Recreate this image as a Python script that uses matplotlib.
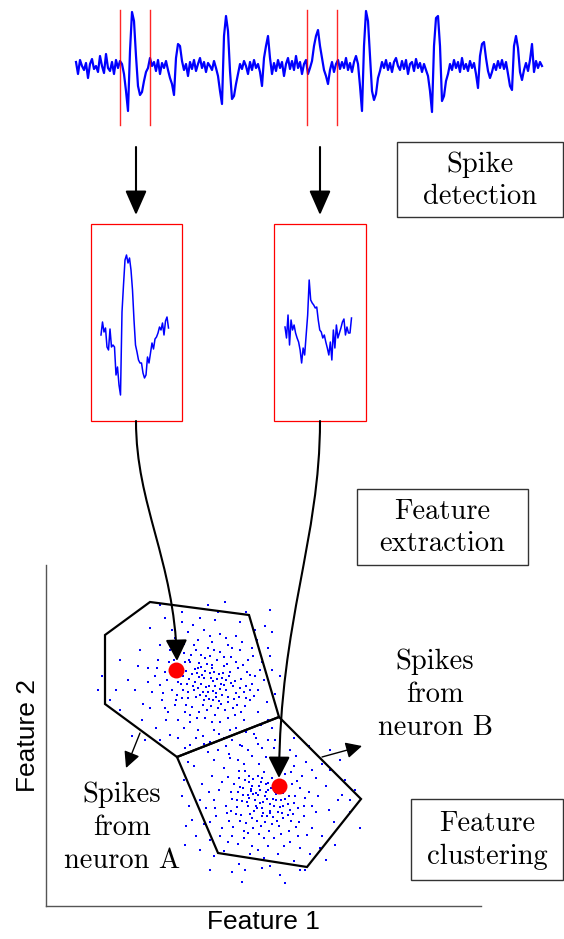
import numpy as np
import matplotlib
matplotlib.use('Agg')
import matplotlib.pyplot as plt
from matplotlib.patches import Rectangle, Polygon, FancyArrowPatch
from matplotlib.path import Path

plt.rcParams['font.family'] = 'DejaVu Sans'

W, H = 564, 939

# raw recording, offset from baseline (px, up = positive), one sample every 2 px
trace = [4, -8, 6, 0, -4, 3, -12, 2, 7, -3, 0, -6, 10, 0, -7, 12, -2, -5, 4, -8,
         6, -2, 5, 2, -8, -25, -45, 15, 54, 45, 10, -20, -29, -26, -15, -6, -2, 8, 0, 4,
         -5, 6, -8, 3, -2, 5, -4, -12, -18, -29, 8, 22, 20, 5, -4, 2, -10, 4, -3, 6,
         -5, 2, 8, -2, 4, -6, 3, 0, -4, 5, -2, -10, -25, -38, 30, 50, 35, -5, -33, -30,
         -18, -8, 2, -3, 5, 0, -8, 4, -4, 6, -2, 2, -6, -20, 8, 20, 30, 8, -8, 3,
         -5, 6, -2, 4, -10, 2, 8, -3, 5, -4, 10, -2, 4, -8, 2, 6, -8, -2, 5, 20,
         30, 36, 20, 8, -4, -10, -18, -4, 4, -6, 2, 6, -3, 4, -2, 8, -4, 3, -6, 4,
         10, 2, -20, -45, 20, 55, 45, 10, -25, -34, -28, -12, -5, 4, -2, 6, -4, 3, -6, 4,
         8, 0, -4, 5, -3, 6, -8, 2, 4, -5, 7, -2, 3, -6, 2, -4, -10, -25, -46, 20,
         48, 50, 20, -35, -30, -15, -8, 2, -4, 6, -2, 4, -6, 8, -3, 2, -5, 5, -2, 3,
         -8, -22, 10, 22, 24, 8, -5, -12, -6, 2, -4, 5, -2, 6, -3, 4, -8, -20, -24, 20,
         30, 18, -6, -14, -4, 3, -5, 6, 22, -6, 5, -2, 4, 0]
trace_x0, trace_step, trace_base = 76, 2, 66

# detection windows (x range on the recording)
windows = [(120, 150), (307, 337)]

# the two cut-out spike waveforms (px offsets from the box baseline)
spike_a = [0, 13, 3, 7, -12, -15, 6, -12, -10, -12, -40, -32, -50, -60, 23, 50,
           75, 80, 72, 77, 65, 45, 15, -10, -17, -25, -28, -28, -38, -43, -40, -22,
           -28, -18, -8, -14, -4, -2, 2, 8, 5, 12, 0, 14, 18, 7]
spike_b = [3, -8, 15, -15, 10, 0, 5, -3, -8, -12, -20, -33, -18, -25, -5, 15,
           50, 30, 27, 25, 22, 23, 10, 0, -2, -8, -5, -12, -18, -25, -12, -30,
           0, -18, 5, -8, -3, 2, 8, 11, -5, 3, -3, -3, 12]

# points in feature space
cluster_a = [
    (190, 662), (198, 668), (205, 671), (212, 665), (219, 674), (226, 680), (201, 684), (194, 690),
    (208, 692), (215, 686), (222, 695), (230, 672), (183, 676), (187, 684), (199, 677), (211, 678),
    (217, 660), (224, 666), (233, 686), (205, 658), (196, 697), (213, 700), (228, 702), (188, 698),
    (180, 668), (241, 679), (236, 693), (203, 705), (218, 708), (192, 707), (207, 664), (214, 672),
    (221, 684), (197, 673), (209, 686), (226, 690), (183, 690), (238, 668), (191, 655), (231, 657),
    (200, 695), (216, 693), (210, 656), (185, 662), (223, 673), (204, 678), (195, 682), (219, 701),
    (234, 699), (186, 705), (170, 650), (165, 672), (172, 690), (160, 685), (175, 705), (168, 712),
    (178, 720), (190, 722), (205, 718), (220, 722), (235, 715), (245, 706), (250, 690), (255, 676),
    (248, 660), (240, 650), (228, 645), (212, 642), (198, 640), (184, 644), (158, 660), (162, 700),
    (175, 638), (250, 700), (258, 690), (244, 720), (230, 730), (214, 730), (198, 730), (184, 728),
    (166, 720), (155, 676), (152, 692), (160, 645), (172, 630), (188, 632), (204, 630), (220, 634),
    (236, 636), (252, 648), (262, 662), (264, 680), (258, 712), (246, 732), (196, 738), (210, 742),
    (224, 738), (170, 735), (150, 708), (148, 668), (140, 650), (135, 690), (142, 720), (128, 680),
    (150, 628), (165, 618), (182, 612), (200, 618), (218, 612), (240, 622), (255, 630), (268, 648),
    (272, 670), (275, 694), (268, 720), (256, 738), (240, 745), (208, 752), (185, 748), (160, 740),
    (120, 710), (110, 700), (102, 676), (145, 740), (270, 610), (265, 626), (246, 612), (225, 602),
    (208, 605), (160, 605), (230, 758), (120, 660), (275, 740), (132, 736), (98, 690),
    (202, 675), (206, 687), (213, 681), (199, 663), (189, 679), (222, 678), (227, 664), (216, 697),
    (193, 686), (209, 699), (231, 683), (186, 671), (240, 688), (178, 682), (195, 669), (203, 692),
    (220, 689), (212, 668), (228, 697), (182, 698), (207, 710), (199, 712), (215, 715), (225, 710),
    (190, 715), (237, 705), (244, 692), (177, 695), (174, 660), (243, 665), (208, 648), (220, 652),
    (196, 650), (232, 648), (184, 653), (250, 675), (167, 680), (163, 693), (252, 684), (246, 698),
    (201, 667), (210, 673), (217, 679), (224, 685), (206, 696), (198, 688), (213, 691), (229, 676),
    (235, 681), (192, 674), (188, 692), (204, 700), (211, 706), (221, 704), (233, 708), (239, 697),
    (246, 686), (247, 672), (236, 662), (224, 657), (214, 650), (201, 655), (189, 660), (181, 684),
    (176, 700), (185, 712), (197, 718), (212, 722), (228, 718), (241, 712), (254, 696), (260, 670),
    (253, 656), (242, 642), (226, 638), (210, 636), (194, 645), (178, 650), (169, 662), (157, 668),
    (165, 708), (178, 738), (203, 736), (232, 740), (261, 725), (267, 702), (270, 656), (257, 640),
    (182, 622), (148, 682), (143, 704), (156, 728), (190, 745), (262, 748), (138, 666), (116, 690),
    (280, 676), (272, 632), (215, 620), (193, 625)]

cluster_b = [
    (245, 780), (252, 786), (260, 790), (268, 783), (275, 792), (281, 800), (255, 800), (248, 806),
    (262, 808), (270, 804), (278, 812), (286, 788), (238, 792), (242, 801), (253, 794), (265, 796),
    (272, 778), (279, 785), (288, 804), (258, 776), (250, 814), (267, 816), (283, 818), (241, 815),
    (234, 784), (295, 796), (290, 810), (257, 821), (272, 824), (246, 823), (261, 782), (268, 790),
    (276, 800), (251, 789), (263, 802), (280, 807), (237, 807), (292, 784), (245, 771), (285, 774),
    (254, 811), (270, 811), (264, 772), (239, 778), (277, 789), (258, 795), (249, 798), (273, 817),
    (288, 815), (240, 821), (256, 793), (260, 803), (267, 799), (253, 779), (243, 795), (276, 794),
    (281, 780), (270, 813), (247, 802), (263, 813), (285, 799), (240, 787), (294, 803), (232, 799),
    (249, 776), (257, 808), (274, 806), (266, 784), (282, 813), (236, 814), (261, 826), (253, 828),
    (269, 831), (279, 826), (244, 831), (291, 821), (298, 808), (231, 811), (228, 777), (297, 781),
    (224, 768), (219, 790), (226, 806), (214, 800), (229, 821), (222, 828), (232, 836), (244, 838),
    (259, 834), (274, 838), (289, 831), (299, 822), (304, 806), (309, 792), (302, 776), (294, 766),
    (282, 760), (266, 757), (252, 756), (238, 760), (212, 776), (216, 816), (229, 754), (304, 816),
    (312, 806), (298, 836), (284, 846), (268, 846), (252, 846), (238, 844), (220, 836), (209, 792),
    (206, 808), (214, 760), (226, 746), (242, 746), (258, 744), (274, 748), (290, 750), (306, 762),
    (316, 778), (318, 796), (312, 828), (300, 848), (250, 854), (264, 858), (278, 854), (224, 851),
    (204, 824), (202, 784), (194, 766), (189, 806), (196, 836), (182, 796), (204, 744), (219, 734),
    (236, 728), (254, 734), (272, 728), (294, 738), (309, 746), (322, 764), (326, 786), (329, 810),
    (322, 836), (310, 854), (294, 861), (262, 868), (239, 864), (214, 856), (188, 762), (184, 780),
    (330, 770), (338, 800), (345, 780), (350, 812), (360, 828), (335, 845), (300, 870), (280, 875),
    (355, 790), (200, 850), (326, 860), (186, 826), (285, 883), (245, 870), (340, 760), (232, 872),
    (251, 791), (259, 786), (266, 792), (273, 799), (256, 806), (248, 795), (262, 816), (271, 788),
    (283, 793), (243, 788), (237, 800), (252, 818), (265, 822), (277, 821), (289, 796), (293, 814),
    (283, 806), (275, 784), (262, 778), (249, 782), (239, 771), (231, 792), (227, 813), (233, 827),
    (248, 833), (264, 838), (281, 834), (296, 827), (305, 798), (300, 788), (291, 772), (277, 767),
    (259, 764), (244, 764), (222, 782), (215, 808), (210, 822), (228, 842), (258, 850), (290, 842),
    (307, 835), (316, 812), (312, 770), (296, 756), (248, 750), (218, 750), (200, 800), (192, 820),
    (210, 840), (270, 866), (320, 848), (334, 822), (342, 795), (330, 750), (210, 870), (185, 845),
    (350, 800), (268, 740), (305, 870), (242, 882)]

centroids = [(176, 670), (279, 786)]

# cluster boundaries
cell_a = [(150, 602), (249, 615), (279, 717), (177, 757), (105, 704), (105, 635)]
cell_b = [(279, 717), (361, 799), (307, 867), (218, 853), (177, 757)]

serif = 'cmr10'
fs = 20.5

fig = plt.figure(figsize=(W / 100, H / 100), dpi=100)

# feature-space axes
fx0, fx1, fy0, fy1 = 46, 481, 565, 906
axf = fig.add_axes([fx0 / W, 1 - fy1 / H, (fx1 - fx0) / W, (fy1 - fy0) / H])
axf.set_xlim(fx0, fx1)
axf.set_ylim(fy1, fy0)
axf.set_facecolor('none')
for s in ['top', 'right']:
    axf.spines[s].set_visible(False)
for s in ['left', 'bottom']:
    axf.spines[s].set_color('#555555')
    axf.spines[s].set_linewidth(1.0)
axf.set_xticks([])
axf.set_yticks([])
axf.set_xlabel('Feature 1', family='Liberation Sans', fontsize=19, labelpad=3)
axf.set_ylabel('Feature 2', family='Liberation Sans', fontsize=19, labelpad=4)

ca = np.array(cluster_a)
cb = np.array(cluster_b)
axf.scatter(ca[:, 0], ca[:, 1], s=3.5, marker='s', c='blue', linewidths=0, zorder=2)
axf.scatter(cb[:, 0], cb[:, 1], s=3.5, marker='s', c='blue', linewidths=0, zorder=2)
for cell in [cell_a, cell_b]:
    axf.add_patch(Polygon(cell, closed=True, fill=False, ec='black', lw=1.6,
                          joinstyle='miter', zorder=3, clip_on=False))
cen = np.array(centroids)
axf.plot(cen[:, 0], cen[:, 1], 'o', color='red', ms=11.5, mec='none', zorder=4)

# overlay for everything else, in pixel units
ax = fig.add_axes([0, 0, 1, 1])
ax.set_xlim(0, W)
ax.set_ylim(H, 0)
ax.set_facecolor('none')
ax.axis('off')

tx = trace_x0 + trace_step * np.arange(len(trace))
ax.plot(tx, trace_base - np.array(trace), color='blue', lw=1.6, zorder=2)
for a, b in windows:
    for xv in (a, b):
        ax.plot([xv, xv], [10, 125], color='red', lw=1.0, alpha=0.85, zorder=3)

# spike cut-outs
boxes = [(91, 224, 91, 197), (274, 224, 92, 197)]
for (bx, by, bw, bh) in boxes:
    ax.add_patch(Rectangle((bx, by), bw, bh, fill=False, ec='red', lw=0.9))
xa = np.linspace(101, 168.5, len(spike_a))
ax.plot(xa, 335 - np.array(spike_a), color='blue', lw=1.1)
xb = np.linspace(285, 351.5, len(spike_b))
ax.plot(xb, 330 - np.array(spike_b), color='blue', lw=1.1)

# straight arrows from the recording to the cut-outs
for xv in (136, 320):
    ax.annotate('', xy=(xv, 215), xytext=(xv, 147),
                arrowprops=dict(arrowstyle='-|>,head_length=0.75,head_width=0.33',
                                mutation_scale=20, color='black', lw=1.5,
                                shrinkA=0, shrinkB=0))

# curved arrows from the cut-outs into feature space
curves = [[(136, 421), (136, 505), (174, 560), (177, 661)],
          [(320, 421), (320, 540), (280, 620), (279, 778)]]
codes = [Path.MOVETO, Path.CURVE4, Path.CURVE4, Path.CURVE4]
for verts in curves:
    ax.add_patch(FancyArrowPatch(path=Path(verts, codes),
                                 arrowstyle='-|>,head_length=0.65,head_width=0.33',
                                 mutation_scale=20, color='black', lw=1.5, zorder=5))

# small arrows pointing at the labels
for start, end in [((140, 733), (126, 768)), ((322, 757), (362, 746))]:
    ax.annotate('', xy=end, xytext=start,
                arrowprops=dict(arrowstyle='-|>,head_length=0.7,head_width=0.35',
                                mutation_scale=14, color='black', lw=1.0,
                                shrinkA=0, shrinkB=0))

# stage boxes
stages = [((397, 142, 166, 75), 'Spike\ndetection'),
          ((357, 489, 171, 76), 'Feature\nextraction'),
          ((411, 799, 152, 81), 'Feature\nclustering')]
for (bx, by, bw, bh), label in stages:
    ax.add_patch(Rectangle((bx, by), bw, bh, fill=False, ec='#333333', lw=1.0))
    ax.text(bx + bw / 2, by + bh / 2 + 1, label, ha='center', va='center',
            family=serif, fontsize=fs, color='black', linespacing=1.3)

ax.text(435, 695, 'Spikes\nfrom\nneuron B', ha='center', va='center',
        family=serif, fontsize=fs, linespacing=1.33)
ax.text(122, 828, 'Spikes\nfrom\nneuron A', ha='center', va='center',
        family=serif, fontsize=fs, linespacing=1.33)

fig.savefig('out.png', dpi=100)
